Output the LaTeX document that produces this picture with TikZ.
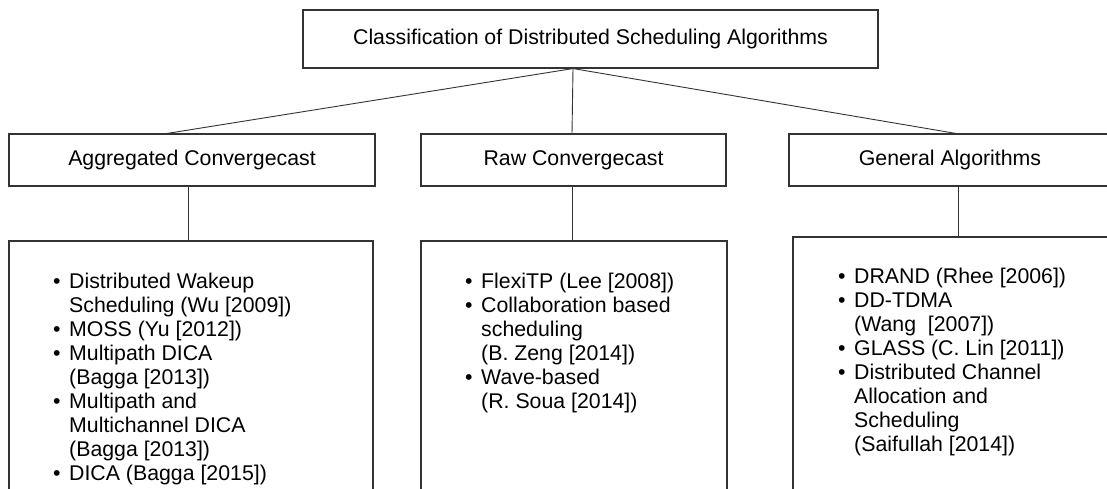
\documentclass[tikz,border=0pt]{standalone}
\usepackage{fontspec}
\setmainfont{Liberation Sans}
\usetikzlibrary{positioning}
\definecolor{edge}{HTML}{333333}
\begin{document}
\begin{tikzpicture}[x=1pt,y=-1pt,
  every node/.style={font=\fontsize{21.3}{24}\selectfont, text=black},
  box/.style={draw=edge, line width=1.1pt, rectangle, inner sep=0pt},
  link/.style={draw=edge, line width=0.9pt},
  list/.style={align=left, inner sep=0pt, anchor=base west}]
\useasboundingbox (0,0) rectangle (1107,488);
\clip (0,0) rectangle (1107,488);
\fill[white] (0,0) rectangle (1107,488);

% root and category boxes
\node[box, minimum width=575, minimum height=58] (root) at (590.5,39)
  {Classification of Distributed Scheduling Algorithms};
\node[box, minimum width=366, minimum height=52] (aggr) at (192,160)
  {Aggregated Convergecast};
\node[box, minimum width=305, minimum height=52] (raw) at (573.5,160)
  {Raw Convergecast};
\node[box, minimum width=322, minimum height=52] (gen) at (950,160)
  {General Algorithms};

% list boxes (run past the lower edge)
\node[box, minimum width=364, minimum height=300] (agglist) at (191,391) {};
\node[box, minimum width=306, minimum height=300] (rawlist) at (574,391) {};
\node[box, minimum width=327, minimum height=300] (genlist) at (956.5,387) {};

% list contents, each placed by the baseline of its last line
\newcommand{\itm}{\makebox[16pt][l]{\textbullet}}
\newcommand{\cnt}{\hspace*{16pt}}
\node[list] (aggtext) at (53,480) {%
\itm Distributed Wakeup\\
\cnt Scheduling (Wu [2009])\\
\itm MOSS (Yu [2012])\\
\itm Multipath DICA\\
\cnt (Bagga [2013])\\
\itm Multipath and\\
\cnt Multichannel DICA\\
\cnt (Bagga [2013])\\
\itm DICA (Bagga [2015])};
\node[list] (rawtext) at (465,408) {%
\itm FlexiTP (Lee [2008])\\
\itm Collaboration based\\
\cnt scheduling\\
\cnt (B. Zeng [2014])\\
\itm Wave-based\\
\cnt (R. Soua [2014])};
\node[list] (gentext) at (838,451) {%
\itm DRAND (Rhee [2006])\\
\itm DD-TDMA\\
\cnt (Wang\ \ [2007])\\
\itm GLASS (C. Lin [2011])\\
\itm Distributed Channel\\
\cnt Allocation and\\
\cnt Scheduling\\
\cnt (Saifullah [2014])};

% connectors
\coordinate (hub) at ([xshift=-17.5]root.south);
\draw[link] (hub) -- ([xshift=-25]aggr.north);
\draw[link] (hub) -- ([xshift=-1.5]raw.north);
\draw[link] (hub) -- ([xshift=6]gen.north);
\draw[link] ([xshift=-4]aggr.south) -- ([xshift=-4]aggr.south |- agglist.north);
\draw[link] ([xshift=-1.5]raw.south) -- ([xshift=-1.5]raw.south |- rawlist.north);
\draw[link] ([xshift=8]gen.south) -- ([xshift=8]gen.south |- genlist.north);
\end{tikzpicture}
\end{document}
